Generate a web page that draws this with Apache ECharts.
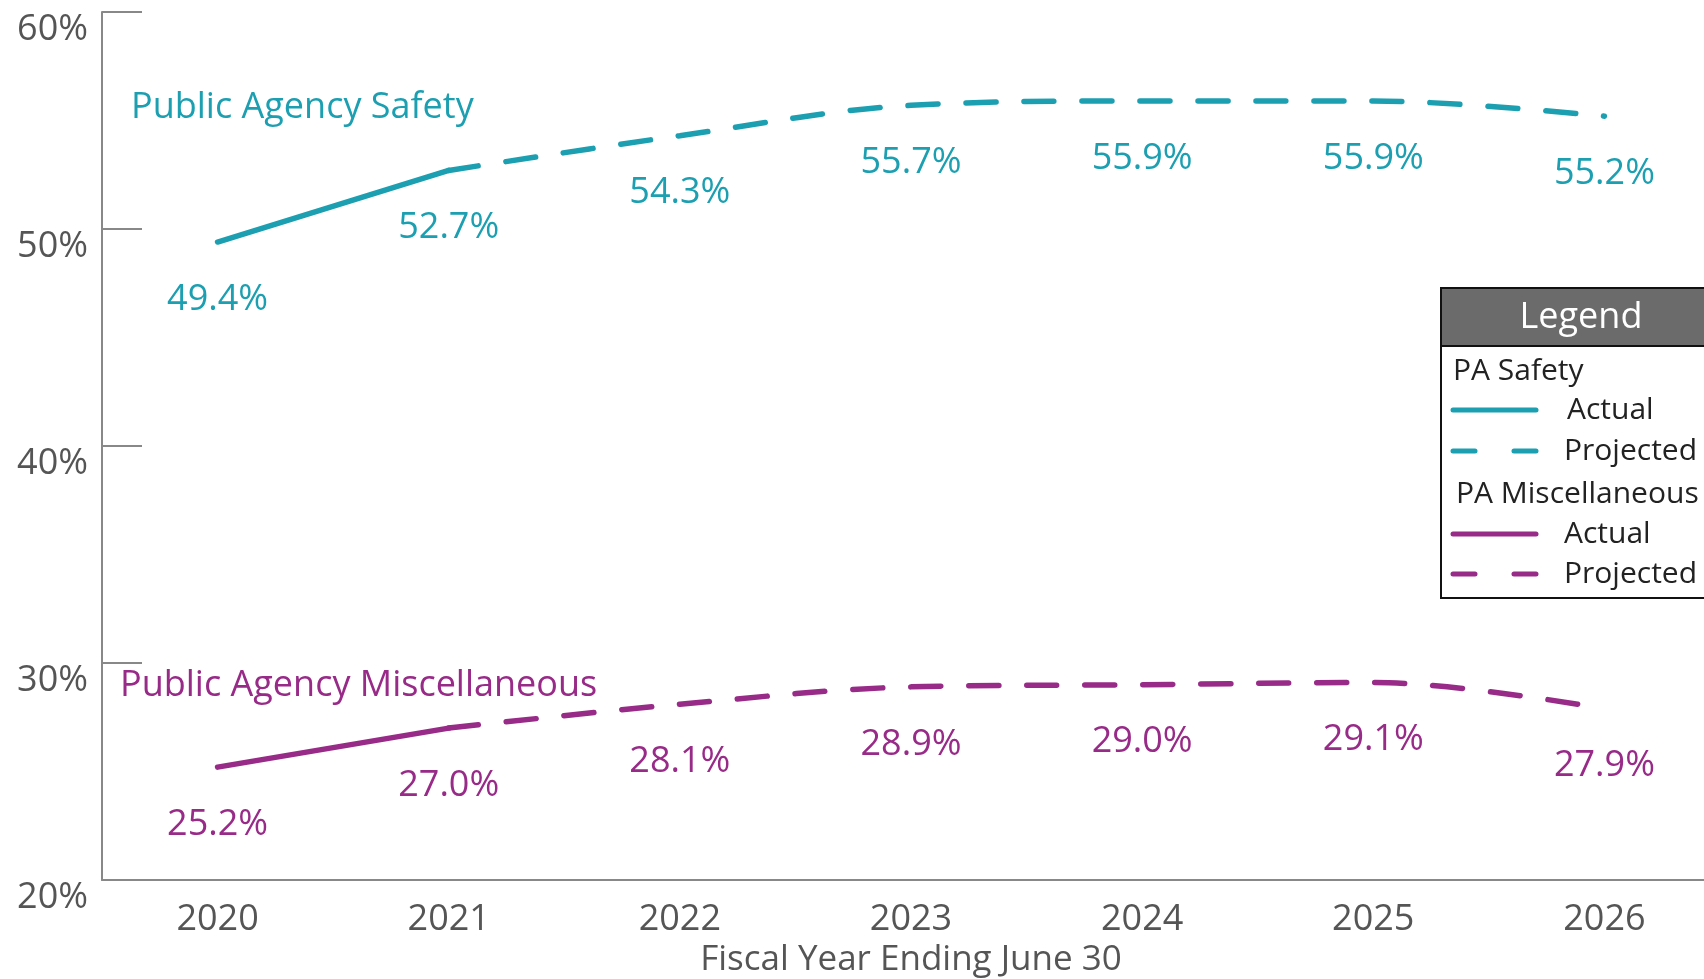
<!DOCTYPE html>
<html><head><meta charset="utf-8">
<script src="https://cdn.jsdelivr.net/npm/echarts@6/dist/echarts.min.js"></script>
<style>html,body{margin:0;padding:0;background:#fff}#c{width:1704px;height:979px}</style>
</head><body><div id="c"></div>
<script>
const years = ['2020','2021','2022','2023','2024','2025','2026'];
const safetyActual = [49.4, 52.7];
const safetyProjected = [52.7, 54.3, 55.7, 55.9, 55.9, 55.2]; // 2021..2026
const miscActual = [25.2, 27.0];
const miscProjected = [27.0, 28.1, 28.9, 29.0, 29.1, 27.9]; // 2021..2026
const yTicks = [20, 30, 40, 50, 60];

const TEAL = '#1c9fb1';
const PURPLE = '#982a88';
const GRAY = '#555555';
const AXIS = '#888888';
const FONT = 'Open Sans';

function pad(arr, start) {
  const out = years.map(() => '-');
  arr.forEach((v, i) => { out[start + i] = v; });
  return out;
}

function mkSeries(name, data, color, dashed, skipFirstLabel) {
  return {
    name: name, type: 'line', data: data,
    smooth: dashed ? 0.35 : false,
    symbol: 'circle', symbolSize: 1,
    itemStyle: { color: 'rgba(0,0,0,0)' },
    lineStyle: { color: color, width: 5.5, cap: 'round', type: dashed ? [30, 28] : 'solid' },
    label: {
      show: true, position: 'bottom', distance: 39,
      color: color, fontFamily: FONT, fontSize: 36,
      formatter: p => (skipFirstLabel && p.dataIndex === 1) ? '' : p.value.toFixed(1) + '%'
    },
    emphasis: { disabled: true },
    z: 3
  };
}

const chart = echarts.init(document.getElementById('c'));
chart.setOption({
  animation: false,
  backgroundColor: '#ffffff',
  grid: { left: 102, width: 1618, top: 12, height: 868, containLabel: false, outerBoundsMode: 'none' },
  xAxis: {
    type: 'category', data: years, boundaryGap: true,
    axisLine: { lineStyle: { color: AXIS, width: 2 } },
    axisTick: { inside: true, length: 22, alignWithLabel: true, lineStyle: { color: AXIS, width: 2 } },
    axisLabel: { color: GRAY, fontFamily: FONT, fontSize: 36, margin: 22 },
    name: 'Fiscal Year Ending June 30', nameLocation: 'middle', nameGap: 62,
    nameTextStyle: { color: GRAY, fontFamily: FONT, fontSize: 35 }
  },
  yAxis: {
    type: 'value', min: yTicks[0], max: yTicks[yTicks.length - 1], interval: 10,
    axisLine: { show: true, lineStyle: { color: AXIS, width: 2 } },
    axisTick: { show: true, inside: true, length: 40, lineStyle: { color: AXIS, width: 2 } },
    splitLine: { show: false },
    axisLabel: { color: GRAY, fontFamily: FONT, fontSize: 36, margin: 14, verticalAlign: 'top', formatter: '{value}%' }
  },
  series: [
    mkSeries('Safety Actual', pad(safetyActual, 0), TEAL, false, false),
    mkSeries('Safety Projected', pad(safetyProjected, 1), TEAL, true, true),
    mkSeries('Misc Actual', pad(miscActual, 0), PURPLE, false, false),
    mkSeries('Misc Projected', pad(miscProjected, 1), PURPLE, true, true)
  ],
  graphic: [
    { type: 'text', x: 131, y: 108, style: { text: 'Public Agency Safety', fill: TEAL, font: '36px "Open Sans"', verticalAlign: 'middle' } },
    { type: 'text', x: 120, y: 686, style: { text: 'Public Agency Miscellaneous', fill: PURPLE, font: '36px "Open Sans"', verticalAlign: 'middle' } },
    { type: 'group', x: 1441, y: 288, children: [
      { type: 'rect', shape: { x: 0, y: 0, width: 300, height: 58 }, style: { fill: '#6b6b6b' } },
      { type: 'rect', shape: { x: 0, y: 0, width: 300, height: 310 }, style: { fill: 'none', stroke: '#111', lineWidth: 2 } },
      { type: 'line', shape: { x1: 0, y1: 58, x2: 300, y2: 58 }, style: { stroke: '#111', lineWidth: 2 } },
      { type: 'text', x: 140, y: 30, style: { text: 'Legend', fill: '#fff', font: '36px "Open Sans"', align: 'center', verticalAlign: 'middle' } },
      { type: 'text', x: 12, y: 83, style: { text: 'PA Safety', fill: '#222', font: '30px "Open Sans"', verticalAlign: 'middle' } },
      { type: 'line', shape: { x1: 12, y1: 122, x2: 95, y2: 122 }, style: { stroke: TEAL, lineWidth: 5, lineCap: 'round' } },
      { type: 'text', x: 126, y: 122, style: { text: 'Actual', fill: '#222', font: '30px "Open Sans"', verticalAlign: 'middle' } },
      { type: 'line', shape: { x1: 12, y1: 163, x2: 95, y2: 163 }, style: { stroke: TEAL, lineWidth: 5, lineCap: 'round', lineDash: [22, 39] } },
      { type: 'text', x: 123, y: 163, style: { text: 'Projected', fill: '#222', font: '30px "Open Sans"', verticalAlign: 'middle' } },
      { type: 'text', x: 15, y: 206, style: { text: 'PA Miscellaneous', fill: '#222', font: '30px "Open Sans"', verticalAlign: 'middle' } },
      { type: 'line', shape: { x1: 12, y1: 246, x2: 95, y2: 246 }, style: { stroke: PURPLE, lineWidth: 5, lineCap: 'round' } },
      { type: 'text', x: 123, y: 246, style: { text: 'Actual', fill: '#222', font: '30px "Open Sans"', verticalAlign: 'middle' } },
      { type: 'line', shape: { x1: 12, y1: 286, x2: 95, y2: 286 }, style: { stroke: PURPLE, lineWidth: 5, lineCap: 'round', lineDash: [22, 39] } },
      { type: 'text', x: 123, y: 286, style: { text: 'Projected', fill: '#222', font: '30px "Open Sans"', verticalAlign: 'middle' } }
    ]}
  ]
});
</script>
</body></html>
